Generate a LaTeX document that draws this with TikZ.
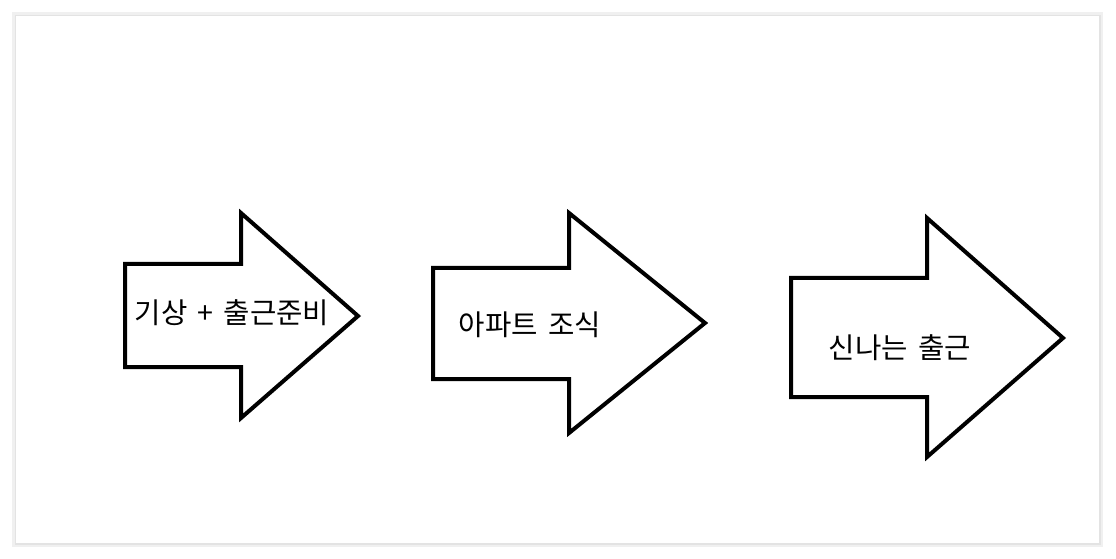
\documentclass[tikz,border=0pt]{standalone}
\usepackage{fontspec}
\newfontfamily\kr[WordSpace=1.6]{Noto Sans CJK KR}
\usepackage{tikz}

\begin{document}
\begin{tikzpicture}[
  x=0.75pt, y=-0.75pt,
  every node/.style={font=\kr\fontsize{21.5}{24}\selectfont, inner sep=0pt},
  blk/.style={draw=black, line width=3pt, line join=miter, fill=white}
]
\useasboundingbox (0,0) rectangle (1116,559);

% Canvas with soft edge
\draw[black!6, line width=3pt] (14,14) rectangle (1101,545);
\draw[black!11, line width=0.8pt] (15.5,15.5) rectangle (1100,544);

% Three block arrows
\draw[blk] (125,264) -- (241,264) -- (241,213) -- (358,316)
  -- (241,418) -- (241,367) -- (125,367) -- cycle;
\draw[blk] (433,268) -- (569,268) -- (569,213) -- (705,323)
  -- (569,433) -- (569,379) -- (433,379) -- cycle;
\draw[blk] (791,278) -- (927,278) -- (927,218) -- (1063,338)
  -- (927,457) -- (927,397) -- (791,397) -- cycle;

% Labels
\node (t1) at (232,313) {기상 + 출근준비};
\node (t2) at (530,325) {아파트 조식};
\node (t3) at (900,348) {신나는 출근};
\end{tikzpicture}
\end{document}
